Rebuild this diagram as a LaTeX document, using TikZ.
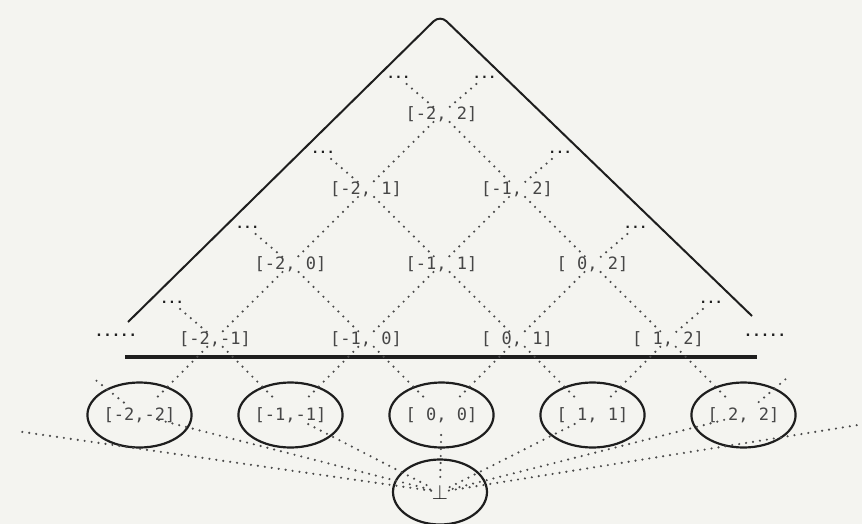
\documentclass[tikz,border=0pt]{standalone}
\usepackage{fontspec}
\setmonofont{DejaVu Sans Mono}
\usetikzlibrary{shapes.geometric}
\definecolor{paper}{RGB}{244,244,240}
\definecolor{ink}{RGB}{30,30,30}
\definecolor{labelgray}{RGB}{70,70,70}
\definecolor{dotgray}{RGB}{75,75,75}
\newcommand{\ivbound}[1]{\ifnum#1<0 #1\else\ #1\fi}
\newcommand{\ivlabel}[2]{[\ivbound{#1},\ivbound{#2}]}

\begin{document}
\begin{tikzpicture}[x=1pt, y=-1pt,
  ivnode/.style={font=\ttfamily\fontsize{17}{19}\selectfont, text=labelgray, inner sep=1pt},
  ptnode/.style={ivnode, draw=ink, line width=2.2pt, ellipse,
    minimum width=94pt, minimum height=65pt},
  moredots/.style={font=\ttfamily\bfseries\fontsize{13}{15}\selectfont, text=ink, inner sep=1pt},
  order/.style={dotgray, line width=2.4pt, line cap=round, dash pattern=on 0pt off 7pt,
    shorten <=11pt, shorten >=11pt},
  stub/.style={order, shorten >=2pt},
]

  % ── Page ─────────────────────────────────────────────────────────────
  \fill[paper] (0,0) rectangle (862,524);
  \useasboundingbox (0,0) rectangle (862,524);

  % ── Outer wedge and base rule ────────────────────────────────────────
  \draw[ink, line width=2pt, rounded corners=9pt] (128,322) -- (440,15) -- (752,316);
  \draw[ink, line width=3.2pt] (125,357) -- (757,357);

  % ── Intervals: level \k (width k+1), slot \i ─────────────────────────
  \foreach \k in {0,...,3} {
    \pgfmathtruncatemacro\imax{3-\k}
    \foreach \i in {0,...,\imax} {
      \pgfmathtruncatemacro\ivlo{\i-2}
      \pgfmathtruncatemacro\ivhi{\i+\k-1}
      \node[ivnode] (n\k\i) at ({215+75.5*\k+151*\i}, {339-75*\k})
        {\ivlabel{\ivlo}{\ivhi}};
    }
    % continuation marks at both ends of the level
    \node[moredots] (l\k) at ({215+75.5*\k-43}, {302-75*\k}) {...};
    \node[moredots] (r\k) at ({215+75.5*\k+151*\imax+43}, {302-75*\k}) {...};
  }
  \node[moredots, font=\ttfamily\bfseries\fontsize{14}{16}\selectfont]
    (lrow) at (116,335) {.....};
  \node[moredots, font=\ttfamily\bfseries\fontsize{14}{16}\selectfont]
    (rrow) at (765,335) {.....};

  % ── Singletons and bottom ────────────────────────────────────────────
  \foreach \i in {0,...,4} {
    \pgfmathtruncatemacro\ivlo{\i-2}
    \node[ptnode] (s\i) at ({139.5+151*\i}, 415) {\ivlabel{\ivlo}{\ivlo}};
  }
  \node[ptnode, font=\fontsize{22}{24}\selectfont, text=ink] (bot) at (440,492) {$\bot$};

  \coordinate (sl) at (93,378);
  \coordinate (sr) at (787,378);
  \coordinate (farL) at (16,431);
  \coordinate (farR) at (858,425);

  % ── Order edges between levels ───────────────────────────────────────
  \foreach \k in {0,1,2} {
    \pgfmathtruncatemacro\imax{3-\k}
    \pgfmathtruncatemacro\kup{\k+1}
    \foreach \i in {0,...,\imax} {
      \pgfmathtruncatemacro\iprev{\i-1}
      \ifnum\i>0 \draw[order] (n\k\i.center) -- (n\kup\iprev.center); \fi
      \ifnum\i<\imax \draw[order] (n\k\i.center) -- (n\kup\i.center); \fi
    }
  }
  \foreach \k in {0,...,3} {
    \pgfmathtruncatemacro\imax{3-\k}
    \draw[stub] (n\k0.center) -- (l\k);
    \draw[stub] (n\k\imax.center) -- (r\k);
  }

  % ── Level 0 down to the singletons ───────────────────────────────────
  \foreach \i in {0,...,3} {
    \pgfmathtruncatemacro\inext{\i+1}
    \draw[order, shorten >=20pt] (n0\i.center) -- (s\i.center);
    \draw[order, shorten >=20pt] (n0\i.center) -- (s\inext.center);
  }
  \draw[order, shorten <=20pt, shorten >=0pt] (s0.center) -- (sl);
  \draw[order, shorten <=20pt, shorten >=0pt] (s4.center) -- (sr);

  % ── Bottom element under every singleton ─────────────────────────────
  \foreach \i in {0,...,4} {
    \draw[order, shorten <=20pt, shorten >=9pt] (s\i.center) -- (bot.center);
  }
  \draw[order, shorten <=9pt, shorten >=0pt] (bot.center) -- (farL);
  \draw[order, shorten <=9pt, shorten >=0pt] (bot.center) -- (farR);

\end{tikzpicture}
\end{document}
